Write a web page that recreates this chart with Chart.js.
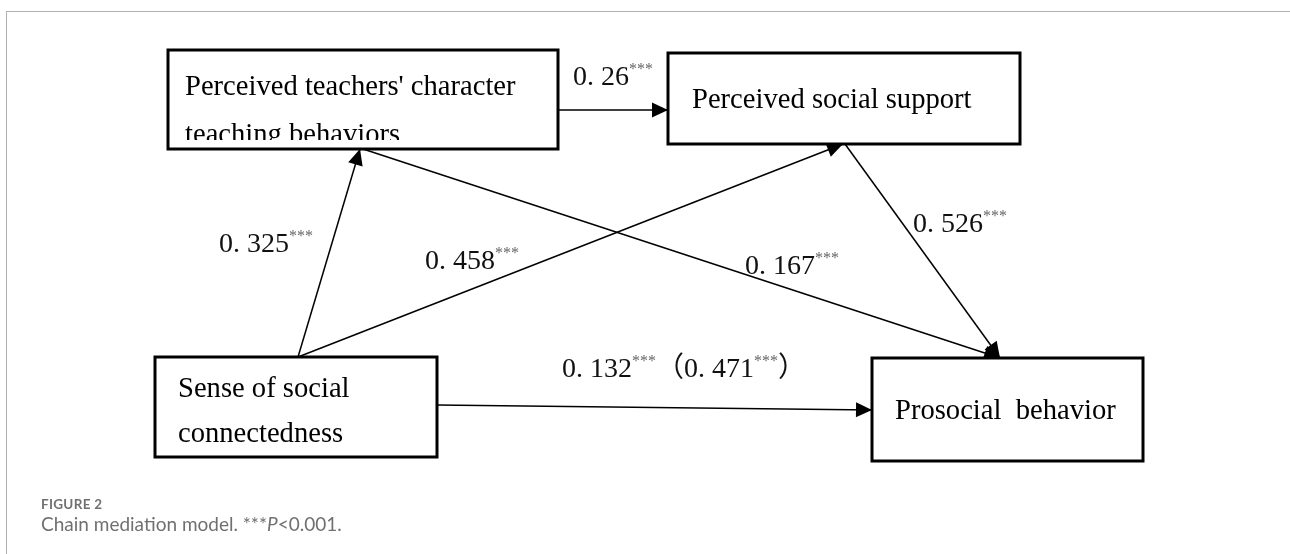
<!DOCTYPE html>
<html lang="en">
<head>
<meta charset="UTF-8">
<title>Chain mediation model</title>
<script src="https://cdn.jsdelivr.net/npm/chart.js"></script>
<style>
  body { margin: 0; background: #fff; }
  .frame { position: absolute; left: 6px; top: 11px; width: 1284px; height: 543px;
           border-top: 1px solid #b0b0b0; border-left: 1px solid #b0b0b0; }
  .wrap { position: absolute; left: 0; top: 0; width: 1290px; height: 554px; }
  .caption { position: absolute; left: 41px; top: 496px; font-family: Lato, "Open Sans", sans-serif; color: #707070; }
  .caption .fig { font-size: 13.5px; line-height: 16px; font-weight: bold; letter-spacing: 0.3px; }
  .caption .txt { font-size: 19px; line-height: 24px; }
</style>
</head>
<body>
  <div class="frame"></div>
  <div class="wrap"><canvas id="model"></canvas></div>
  <div class="caption">
    <div class="fig">FIGURE 2</div>
    <div class="txt">Chain mediation model. ***<i>P</i>&lt;0.001.</div>
  </div>

<script>
// model variables (text lines of each box)
const nodeLines = [
  ["Sense of social", "connectedness"],
  ["Perceived teachers' character", "teaching behaviors"],
  ["Perceived social support"],
  ["Prosocial  behavior"]
];
// paths: from -> to, standardised coefficients
const pathFrom = [1, 0, 0, 1, 2, 0];
const pathTo   = [2, 1, 2, 3, 3, 3];
const pathCoef = [0.26, 0.325, 0.458, 0.167, 0.526, 0.132];
const totalEffect = 0.471;   // shown in brackets on the direct path
const sigStars = "***";

// where things sit on the page (pixel-like units of the hidden axes)
const boxPos = [
  { x: 155, y: 357, w: 282, h: 100, tx: 178, ty: [397, 442] },
  { x: 168, y: 50,  w: 390, h: 99,  tx: 185, ty: [95, 143], clipY: 140 },
  { x: 668, y: 53,  w: 352, h: 91,  tx: 692, ty: [108] },
  { x: 872, y: 358, w: 271, h: 103, tx: 895, ty: [419] }
];
const pathPos = [
  { x1: 558, y1: 110, x2: 668,  y2: 110, lx: 573, ly: 85 },
  { x1: 298, y1: 357, x2: 360,  y2: 149, lx: 219, ly: 252 },
  { x1: 298, y1: 357, x2: 843,  y2: 144, lx: 425, ly: 269 },
  { x1: 363, y1: 149, x2: 1000, y2: 358, lx: 745, ly: 274 },
  { x1: 845, y1: 144, x2: 1000, y2: 358, lx: 913, ly: 232 },
  { x1: 437, y1: 405, x2: 872,  y2: 410, lx: 562, ly: 377 }
];

const serif = '"Liberation Serif", "Times New Roman", "Noto Sans CJK SC", serif';

function coefText(v) {
  return String(v).replace("0.", "0. ");
}

// one dataset per path, a straight line between its two ends
const datasets = pathPos.map((p, i) => ({
  label: 'path ' + pathFrom[i] + '-' + pathTo[i],
  data: [{ x: p.x1, y: p.y1 }, { x: p.x2, y: p.y2 }],
  showLine: true,
  borderColor: '#000',
  borderWidth: 1.5,
  pointRadius: 0,
  clip: false
}));

const diagramPlugin = {
  id: 'diagram',
  afterDatasetsDraw(chart) {
    const ctx = chart.ctx;
    const xs = chart.scales.x, ys = chart.scales.y;
    const px = v => xs.getPixelForValue(v);
    const py = v => ys.getPixelForValue(v);

    ctx.save();
    // arrow heads
    ctx.fillStyle = '#000';
    pathPos.forEach(p => {
      const x1 = px(p.x1), y1 = py(p.y1), x2 = px(p.x2), y2 = py(p.y2);
      const a = Math.atan2(y2 - y1, x2 - x1);
      const len = 16, half = 7.5;
      ctx.beginPath();
      ctx.moveTo(x2, y2);
      ctx.lineTo(x2 - len * Math.cos(a) + half * Math.sin(a), y2 - len * Math.sin(a) - half * Math.cos(a));
      ctx.lineTo(x2 - len * Math.cos(a) - half * Math.sin(a), y2 - len * Math.sin(a) + half * Math.cos(a));
      ctx.closePath();
      ctx.fill();
    });

    // boxes and their text
    boxPos.forEach((b, i) => {
      const x = px(b.x), y = py(b.y), w = px(b.x + b.w) - x, h = py(b.y + b.h) - y;
      ctx.fillStyle = '#fff';
      ctx.fillRect(x, y, w, h);
      ctx.strokeStyle = '#000';
      ctx.lineWidth = 3;
      ctx.strokeRect(x, y, w, h);

      ctx.save();
      if (b.clipY) {
        ctx.beginPath();
        ctx.rect(x, y, w, py(b.clipY) - y);
        ctx.clip();
      }
      ctx.fillStyle = '#000';
      ctx.font = '28.6px ' + serif;
      ctx.textBaseline = 'alphabetic';
      nodeLines[i].forEach((line, k) => ctx.fillText(line, px(b.tx), py(b.ty[k])));
      ctx.restore();
    });

    // coefficients
    function drawParts(parts, x, y) {
      parts.forEach(part => {
        if (part.sup) {
          ctx.font = '16px ' + serif;
          ctx.fillStyle = '#666';
          ctx.fillText(part.t, x, y - 11);
        } else {
          ctx.font = '28px ' + serif;
          ctx.fillStyle = '#111';
          ctx.fillText(part.t, x, y);
        }
        x += ctx.measureText(part.t).width;
      });
    }
    pathPos.forEach((p, i) => {
      let parts = [{ t: coefText(pathCoef[i]) }, { t: sigStars, sup: true }];
      if (i === pathPos.length - 1) {
        parts = parts.concat([{ t: '\uFF08' + coefText(totalEffect) }, { t: sigStars, sup: true }, { t: '\uFF09' }]);
      }
      drawParts(parts, px(p.lx), py(p.ly));
    });
    ctx.restore();
  }
};

new Chart(document.getElementById('model'), {
  type: 'scatter',
  data: { datasets: datasets },
  options: {
    responsive: true,
    maintainAspectRatio: false,
    animation: false,
    layout: { padding: 0 },
    scales: {
      x: { type: 'linear', min: 0, max: 1290, display: false },
      y: { type: 'linear', min: 0, max: 554, reverse: true, display: false }
    },
    plugins: {
      legend: { display: false },
      tooltip: { enabled: false }
    }
  },
  plugins: [diagramPlugin]
});
</script>
</body>
</html>
